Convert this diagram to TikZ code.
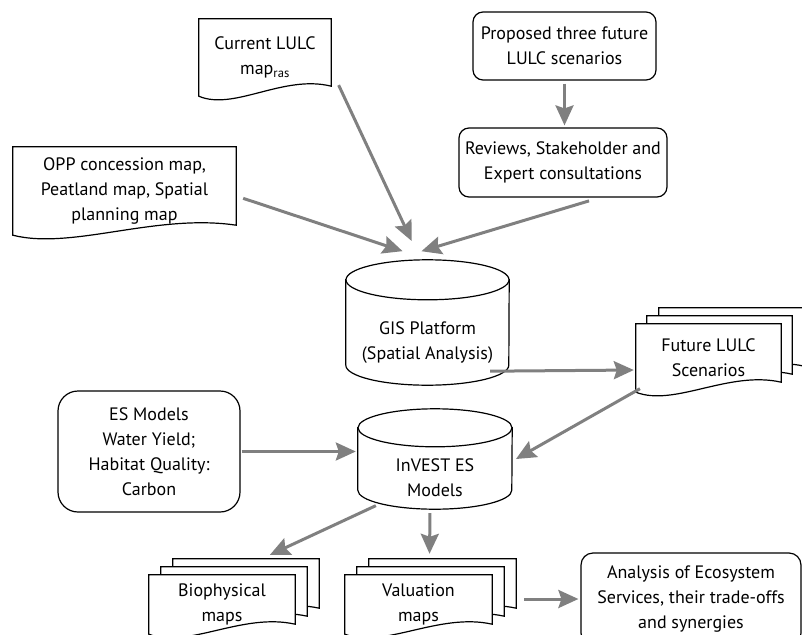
\documentclass[tikz,border=0pt]{standalone}
\usepackage{fontspec}
\setmainfont{PT Sans}
\usetikzlibrary{arrows.meta,calc,backgrounds}

\definecolor{arrgray}{HTML}{808080}
\tikzset{
  txt/.style={align=center, inner sep=0pt, font=\fontsize{18}{25}\selectfont},
  rbox/.style={txt, draw, line width=1.2pt, rounded corners=10pt},
  outl/.style={draw, line width=1.2pt, fill=white},
  arr/.style={draw=arrgray, line width=3pt, -{Stealth[length=20pt,width=18pt,inset=3pt]}, shorten >=2pt, shorten <=1pt},
}

% document outline: node, offset
\newcommand{\docline}[2]{%
  \draw[outl] ($(#1.south west)+#2$) -- ($(#1.north west)+#2$) -- ($(#1.north east)+#2$) -- ($(#1.south east)+#2+(0,-10)$)
    .. controls ($(#1.south west)!0.64!(#1.south east)+#2+(0,-22)$) and ($(#1.south west)!0.265!(#1.south east)+#2+(0,15)$) .. ($(#1.south west)+#2$) -- cycle;}
% cylinder outline: node, x radius, y radius
\newcommand{\cylline}[3]{%
  \draw[outl] ($(#1.north west)+(0,-#3)$) -- ($(#1.south west)+(0,-#3)$) arc[start angle=180, end angle=0, x radius=#2, y radius=#3] -- ($(#1.north east)+(0,-#3)$) -- cycle;
  \draw[outl] ($(#1.north)+(0,-#3)$) ellipse[x radius=#2, y radius=#3];}

\begin{document}
\begin{tikzpicture}[x=1pt,y=-1pt,line join=round]
\useasboundingbox (0,0) rectangle (802,634);
\clip (0,0) rectangle (802,634);

\node[txt, minimum width=132pt, minimum height=77pt] (cur) at (265,57.5) {Current LULC\\map\textsubscript{ras}};   % current
\node[txt, minimum width=223pt, minimum height=88pt] (opp) at (124.5,191) {OPP concession map,\\Peatland map, Spatial\\planning map};   % maps
\node[rbox, minimum width=183pt, minimum height=68pt] (prop) at (564.5,46) {Proposed three future\\LULC scenarios};
\node[rbox, minimum width=208pt, minimum height=69pt] (rev) at (563,162.5) {Reviews, Stakeholder and\\Expert consultations};
\node[txt, minimum width=163pt, minimum height=85pt] (gis) at (427.5,342.5) {GIS Platform\\(Spatial Analysis)};
\node[txt, minimum width=145pt, minimum height=68pt] (fut) at (708.5,358) {Future LULC\\Scenarios};
\node[rbox, rounded corners=20pt, minimum width=182pt, minimum height=121pt] (es) at (149,451.5) {ES Models\\Water Yield;\\Habitat Quality:\\Carbon};
\node[txt, minimum width=154pt, minimum height=62pt] (inv) at (435,478) {InVEST ES\\Models};
\node[txt, minimum width=146pt, minimum height=59pt] (bio) at (222,604.5) {Biophysical\\maps};
\node[txt, minimum width=147pt, minimum height=59pt] (val) at (418.5,604.5) {Valuation\\maps};
\node[rbox, rounded corners=12pt, minimum width=220pt, minimum height=92pt] (ana) at (691,599) {Analysis of Ecosystem\\Services, their trade-offs\\and synergies};

\begin{scope}[on background layer]
  \clip (0,0) rectangle (802,634);
  \docline{cur}{(0,0)}
  \docline{opp}{(0,0)}
  \cylline{gis}{81.5}{20}
  \cylline{inv}{77}{19}
  \docline{fut}{(23,-16)} \docline{fut}{(11,-8)} \docline{fut}{(0,0)}
  \docline{bio}{(24,-16)} \docline{bio}{(12,-8)} \docline{bio}{(0,0)}
  \docline{val}{(24,-16)} \docline{val}{(12,-8)} \docline{val}{(0,0)}
\end{scope}

\draw[arr] ($(cur.south east)+(7,-12)$) -- ($(gis.north)+(-15,-57)$);   % cur-gis
\draw[arr] ($(opp.east)+(6,7)$) -- ($(gis.north)+(-23,-48)$);   % opp-gis
\draw[arr] ($(rev.south)+(27,3)$) -- ($(gis.north)+(-8,-48)$);   % rev-gis
\draw[arr, shorten <=3pt] (prop.south) -- (prop.south |- rev.north);   % prop-rev
\draw[arr] ($(gis.south east)+(-20,-14)$) -- ($(fut.west)+(0,12)$);   % gis-fut
\draw[arr] ($(fut.south west)+(5,-4)$) -- ($(inv.east)+(2,-18)$);   % fut-inv
\draw[arr] (es.east) -- (es.east -| inv.west);   % es-inv
\draw[arr] ($(inv.south west)+(19,-4)$) -- ($(bio.north)+(46,-19)$);   % inv-bio
\draw[arr] ($(inv.south)+(-5,3)$) -- ($(val.north)+(11,-19)$);   % inv-val
\draw[arr] ($(ana.west -| val.east)+(31,0)$) -- (ana.west);   % val-ana
\end{tikzpicture}
\end{document}
